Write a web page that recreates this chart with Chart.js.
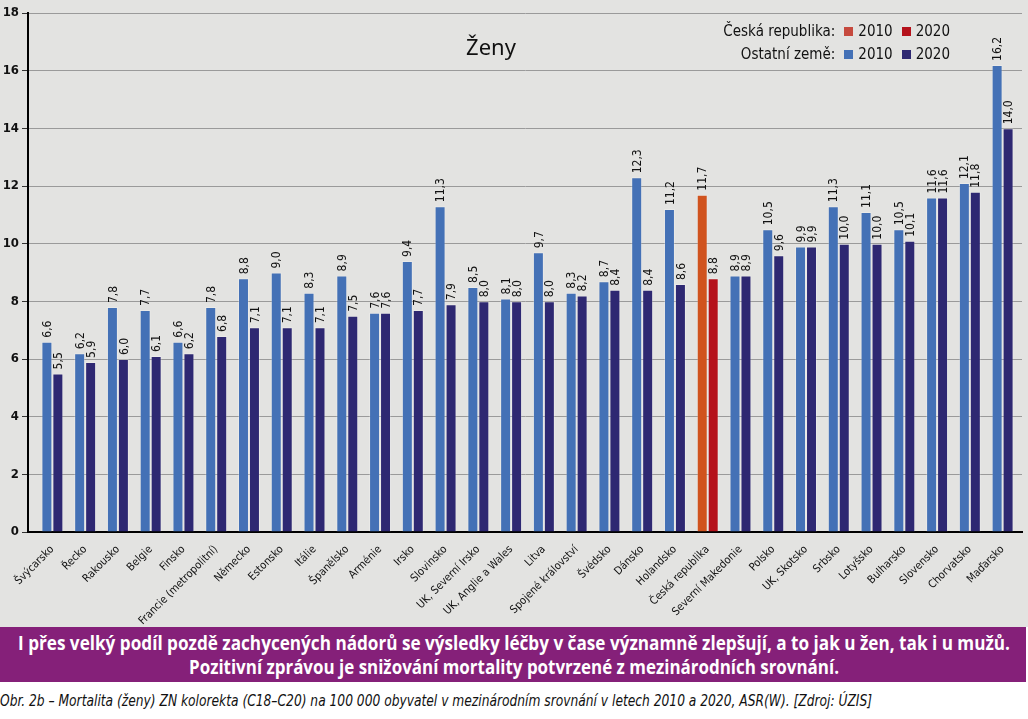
<!DOCTYPE html>
<html lang="cs">
<head>
<meta charset="utf-8">
<script src="https://cdn.jsdelivr.net/npm/chart.js@4/dist/chart.umd.min.js"></script>
<style>
  html, body { margin: 0; padding: 0; background: #fff; }
  body { width: 1028px; height: 719px; position: relative; overflow: hidden; }
  #panel { position: absolute; left: 0; top: 0; width: 1028px; height: 627px; background: #e3e3e1; }
  #chartBox { position: absolute; left: 0; top: 0; width: 1028px; height: 627px; }
  #title { position: absolute; left: 440px; width: 102px; top: 31px; text-align: center;
    font: 22px "Noto Sans", "DejaVu Sans", sans-serif; color: #111; }
  .legend { position: absolute; right: 78px; font: 15px "Liberation Sans Narrow", "DejaVu Sans Condensed", sans-serif;
    color: #111; white-space: nowrap; }
  .legend span.sw { display: inline-block; width: 9px; height: 9px; margin: 0 5px 0 9px; }
  #banner { position: absolute; left: 0; top: 627px; width: 1026px; height: 55px; background: #852079;
    color: #fff; font: bold 20px "Open Sans", "Noto Sans", sans-serif; line-height: 24px; }
  #banner span { position: absolute; left: 514px; white-space: nowrap; transform-origin: center; }
  #caption { position: absolute; left: 0; top: 692px; font: italic 15px "Liberation Sans Narrow", "DejaVu Sans Condensed", sans-serif;
    color: #111; white-space: nowrap; }
  #caption span { display: inline-block; white-space: nowrap; transform-origin: left; }
</style>
</head>
<body>
<div id="panel"></div>
<div id="chartBox"><canvas id="chart"></canvas></div>
<div id="title">Ženy</div>
<div class="legend" style="top:22px">Česká republika:<span class="sw" style="background:#c64a3e"></span>2010<span class="sw" style="background:#b5121b"></span>2020</div>
<div class="legend" style="top:45px">Ostatní země:<span class="sw" style="background:#4471b6"></span>2010<span class="sw" style="background:#2e2872"></span>2020</div>
<div id="banner">
  <span data-w="992" data-c="1" style="top:4px">I přes velký podíl pozdě zachycených nádorů se výsledky léčby v čase významně zlepšují, a to jak u žen, tak i u mužů.</span>
  <span data-w="650" data-c="1" style="top:28px">Pozitivní zprávou je snižování mortality potvrzené z mezinárodních srovnání.</span>
</div>
<div id="caption"><span data-w="872">Obr. 2b – Mortalita (ženy) ZN kolorekta (C18–C20) na 100 000 obyvatel v mezinárodním srovnání v letech 2010 a 2020, ASR(W). [Zdroj: ÚZIS]</span></div>

<script>
const countries = [
  "Švýcarsko", "Řecko", "Rakousko", "Belgie", "Finsko", "Francie (metropolitní)",
  "Německo", "Estonsko", "Itálie", "Španělsko", "Arménie", "Irsko", "Slovinsko",
  "UK, Severní Irsko", "UK, Anglie a Wales", "Litva", "Spojené království", "Švédsko",
  "Dánsko", "Holandsko", "Česká republika", "Severní Makedonie", "Polsko", "UK, Skotsko",
  "Srbsko", "Lotyšsko", "Bulharsko", "Slovensko", "Chorvatsko", "Maďarsko"
];
const values2010 = [6.6, 6.2, 7.8, 7.7, 6.6, 7.8, 8.8, 9.0, 8.3, 8.9, 7.6, 9.4, 11.3,
  8.5, 8.1, 9.7, 8.3, 8.7, 12.3, 11.2, 11.7, 8.9, 10.5, 9.9, 11.3, 11.1, 10.5, 11.6, 12.1, 16.2];
const values2020 = [5.5, 5.9, 6.0, 6.1, 6.2, 6.8, 7.1, 7.1, 7.1, 7.5, 7.6, 7.7, 7.9,
  8.0, 8.0, 8.0, 8.2, 8.4, 8.4, 8.6, 8.8, 8.9, 9.6, 9.9, 10.0, 10.0, 10.1, 11.6, 11.8, 14.0];
const yTicks = [0, 2, 4, 6, 8, 10, 12, 14, 16, 18];

const highlight = "Česká republika";
const col2010 = countries.map(c => c === highlight ? "#d0531e" : "#4471b6");
const col2020 = countries.map(c => c === highlight ? "#b5121b" : "#2e2872");

const narrow = "'Liberation Sans Narrow', 'DejaVu Sans Condensed', sans-serif";

// texty banneru a popisku stáhnout na šířku z originálu
function fitTexts() {
  document.querySelectorAll("span[data-w]").forEach(el => {
    el.style.transform = "";
    const k = +el.dataset.w / el.getBoundingClientRect().width;
    el.style.transform = (el.dataset.c ? "translateX(-50%) " : "") + "scaleX(" + k + ")";
  });
}
fitTexts();
document.fonts.ready.then(fitTexts);

// popisky hodnot nad sloupci, otočené o 90°
const valueLabels = {
  id: "valueLabels",
  afterDatasetsDraw(chart) {
    const ctx = chart.ctx;
    ctx.save();
    ctx.fillStyle = "#111";
    ctx.font = "12px " + narrow;
    ctx.textAlign = "left";
    ctx.textBaseline = "middle";
    chart.data.datasets.forEach((ds, i) => {
      chart.getDatasetMeta(i).data.forEach((bar, j) => {
        const txt = ds.data[j].toFixed(1).replace(".", ",");
        ctx.save();
        ctx.translate(bar.x + 1, bar.y - 4);
        ctx.rotate(-Math.PI / 2);
        ctx.fillText(txt, 0, 0);
        ctx.restore();
      });
    });
    ctx.restore();
  }
};

// kategorie začínají kousek vpravo od osy y
const xInset = {
  id: "xInset",
  afterLayout(chart) {
    const x = chart.scales.x;
    x.left += 8; x.right -= 3;
    x.configure();
    x.left -= 8; x.right += 3;
  }
};

new Chart(document.getElementById("chart"), {
  type: "bar",
  data: {
    labels: countries,
    datasets: [
      { label: "2010", data: values2010, backgroundColor: col2010, borderColor: "rgba(255,255,255,0.25)", borderWidth: 1 },
      { label: "2020", data: values2020, backgroundColor: col2020, borderColor: "rgba(255,255,255,0.25)", borderWidth: 1 }
    ]
  },
  options: {
    responsive: true,
    maintainAspectRatio: false,
    animation: false,
    categoryPercentage: 0.67,
    barPercentage: 1.0,
    layout: { padding: { left: 0, right: 6, top: 13, bottom: 0 } },
    plugins: { legend: { display: false }, tooltip: { enabled: false } },
    scales: {
      x: {
        grid: { display: false },
        border: { color: "#000", width: 2 },
        ticks: {
          color: "#111", maxRotation: 45, minRotation: 45, autoSkip: false, padding: 3,
          font: { family: narrow, size: 11 }
        },
        afterFit: axis => { axis.height = 95; }
      },
      y: {
        min: 0, max: 18,
        afterBuildTicks: axis => { axis.ticks = yTicks.map(v => ({ value: v })); },
        grid: { color: "#9a9a9a", lineWidth: 1, tickLength: 6, tickColor: "#333" },
        border: { color: "#000", width: 2 },
        ticks: { color: "#111", padding: 3, font: { family: narrow, size: 13, weight: "bold" } },
        afterFit: axis => { axis.width = 28; }
      }
    }
  },
  plugins: [valueLabels, xInset]
});
</script>
</body>
</html>
